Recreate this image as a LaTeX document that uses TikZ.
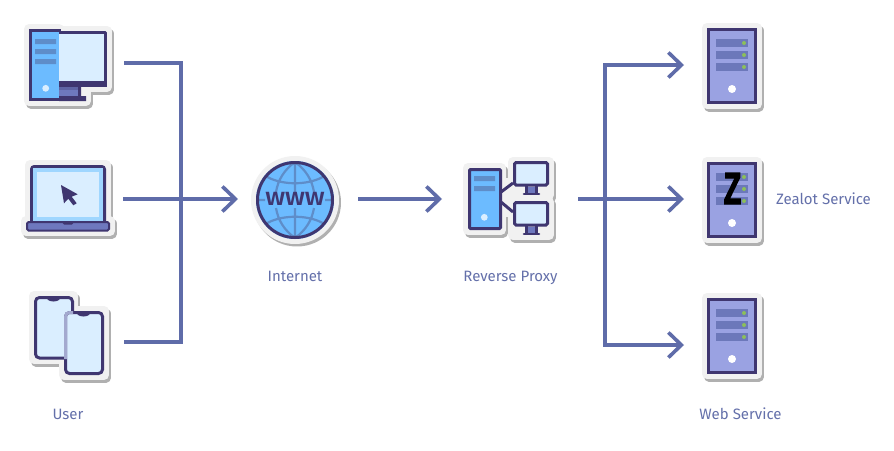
\documentclass[tikz,border=0pt]{standalone}
\usepackage{fontspec}
\setmainfont{Fira Sans}
\newfontfamily\zfont[FakeStretch=0.62,FakeBold=2.8]{Liberation Sans}
\newfontfamily\wwwfont[UprightFont=* Medium,FakeStretch=1.08]{Fira Sans}
\usetikzlibrary{arrows.meta}
\definecolor{lineblue}{HTML}{5F6CA9}
\definecolor{labelblue}{HTML}{6470AA}
\definecolor{navy}{HTML}{3F3670}
\definecolor{sky}{HTML}{6CBBFF}
\definecolor{pale}{HTML}{DAEEFF}
\definecolor{mid}{HTML}{9FD6FF}
\definecolor{steel}{HTML}{5E8DC9}
\definecolor{plum}{HTML}{6E78BE}
\definecolor{lav}{HTML}{9AA2E2}
\definecolor{lavd}{HTML}{6C78BA}
\definecolor{stick}{HTML}{F1F1F1}
\definecolor{shade}{HTML}{B0B0B0}
\definecolor{leaf}{HTML}{8CBF5A}
\definecolor{veil}{HTML}{A3A9CF}
\tikzset{
  x=1pt,y=-1pt,
  conn/.style={draw=lineblue,line width=3.6pt,line join=miter},
  arrowconn/.style={conn,-{Straight Barb[length=13pt,width=25pt,line width=3.6pt]}},
  iconbox/.style={inner sep=0pt,outer sep=0pt,minimum width=#1,minimum height=30pt},
  lbl/.style={text=labelblue,font=\fontsize{15}{17}\selectfont,inner sep=0pt,anchor=base},
}
% sticker: shadow then pale outline
\newcommand{\sticker}[1]{%
  \fill[shade,draw=shade,line width=10pt,line join=round,shift={(2pt,-2.5pt)}] #1;
  \fill[stick,draw=stick,line width=10pt,line join=round] #1;
}
\newcommand{\serverbody}[1]{%
  \begin{scope}[shift={(0,#1)}]
    \sticker{(707,0) rectangle (757,76)}
    \filldraw[fill=lav,draw=navy,line width=3pt] (708.5,1.5) rectangle (755.5,74.5);
    \foreach \yy in {11,23,35}{
      \fill[lavd] (716,\yy) rectangle (748,\yy+8);
      \fill[leaf] (744,\yy+4) circle (2pt);
    }
    \fill[white] (732,61) circle (4pt);
  \end{scope}
}
\newcommand{\minimon}[1]{%
  \begin{scope}[shift={(0,#1)}]
    \fill[plum] (528,26) rectangle (535,32);
    \draw[navy,line width=2.4pt] (526.5,25) -- (526.5,32) (536.5,25) -- (536.5,32);
    \draw[navy,line width=2.6pt,line cap=round] (524,33) -- (539,33);
    \filldraw[fill=pale,draw=navy,line width=3pt,rounded corners=1.5pt] (514.5,1.5) rectangle (547.5,24);
  \end{scope}
}
\begin{document}
\begin{tikzpicture}
\useasboundingbox (0,0) rectangle (894,450);
\fill[white] (0,0) rectangle (894,450);

% ---------- desktop
\sticker{(29,29) rectangle (59,101) (59,31) rectangle (107,87) (59,87) rectangle (86,101)}
\fill[plum] (59,87) rectangle (79,97);
\fill[lavd!70!navy] (59,87) rectangle (79,90);
\fill[pale] (59,33) rectangle (105,82);
\draw[navy,line width=3pt,line join=round] (59,32.5) -- (105.5,32.5) -- (105.5,85.5) -- (59,85.5);
\fill[navy] (59,81) rectangle (107,87);
\fill[navy] (78,87) rectangle (81,96) (59,96) rectangle (86,101);
\fill[sky] (31,31) rectangle (59,99);
\draw[navy,line width=3pt] (61,30.5) -- (30.5,30.5) -- (30.5,99.5) -- (60,99.5);
\fill[steel] (35,39) rectangle (56,44) (35,49) rectangle (56,54) (35,59) rectangle (56,64);
\fill[pale] (45.7,88.3) circle (3.4pt);

% ---------- laptop
\sticker{(30,165) rectangle (106,222) (26,221) rectangle (110,231)}
\fill[navy,rounded corners=4pt] (30,165) rectangle (106,226);
\fill[mid] (33,168) rectangle (103,222);
\fill[pale] (37,172) rectangle (99,217);
\filldraw[fill=plum,draw=navy,line width=2pt,rounded corners=1.5pt] (27,222) rectangle (109,230.5);
\fill[navy] (61,221) -- (75,221) -- (72,224.5) -- (64,224.5) -- cycle;
\fill[navy] (61,185) -- (77.7,194.3) -- (71.7,196.7) -- (76.7,203.3) -- (73.3,205.3) -- (68.3,198.7) -- (64,203.3) -- cycle;

% ---------- phones
\sticker{(34,296) rectangle (73,359) (64,311) rectangle (104,375)}
\filldraw[fill=pale,draw=navy,line width=3pt,rounded corners=4pt] (35.5,297.5) rectangle (72.5,358);
\fill[navy] (46,296.5) -- (61,296.5) -- (59,300) .. controls (56,302) and (51,302) .. (48,300) -- cycle;
\filldraw[fill=pale,draw=navy,line width=3pt,rounded corners=4pt] (65.5,312.5) rectangle (102.5,373.5);
\draw[line width=3pt,draw=veil,rounded corners=4pt] (65.5,359) -- (65.5,312.5) -- (73,312.5);
\fill[navy] (76,311.5) -- (91,311.5) -- (89,315) .. controls (86,317) and (81,317) .. (78,315) -- cycle;

% ---------- globe
\sticker{(295,200) circle (39pt)}
\filldraw[fill=sky,draw=none] (295,200) circle (39pt);
\begin{scope}
\clip (295,200) circle (38pt);
\draw[steel,line width=2.2pt]
  (295,162) -- (295,192) (295,208) -- (295,238)
  (256,200) -- (265,200) (325,200) -- (334,200)
  (264,175) .. controls (280,186) and (310,186) .. (326,175)
  (264,225) .. controls (280,214) and (310,214) .. (326,225)
  (295,162) .. controls (284,170) and (278,180) .. (276,192)
  (295,162) .. controls (306,170) and (312,180) .. (314,192)
  (295,238) .. controls (284,230) and (278,220) .. (276,208)
  (295,238) .. controls (306,230) and (312,220) .. (314,208);
\end{scope}
\draw[navy,line width=3pt] (295,200) circle (37.5pt);
\node[inner sep=0pt,text=navy,font=\fontsize{25}{25}\wwwfont] (wwwtext) at (295,198.5) {www};

% ---------- reverse proxy
\sticker{(468,168) rectangle (501,230) (501,183) rectangle (513,212) (513,162) rectangle (549,195) (513,202) rectangle (549,235)}
\draw[navy,line width=3pt] (501,192) -- (513,183) (501,202) -- (513,212);
\filldraw[fill=sky,draw=navy,line width=3pt,rounded corners=1pt] (469.5,169.5) rectangle (500.5,228.5);
\fill[steel] (474,176) rectangle (495,181) (474,186) rectangle (495,191);
\fill[pale] (484.3,217.3) circle (3.4pt);
\minimon{161}
\minimon{201}

% ---------- servers
\serverbody{28}
\serverbody{162}
\serverbody{298}
\node[inner sep=0pt,text=black,font=\fontsize{45}{45}\zfont\bfseries] (zmark) at (732.5,188.5) {Z};

% ---------- named boxes and connectors
\node[iconbox=112pt] (desktop) at (68,63) {};
\node[iconbox=112pt] (laptop) at (67,199) {};
\node[iconbox=112pt] (phones) at (68,342) {};
\node[iconbox=120pt] (globe) at (298,199) {};
\node[iconbox=136pt] (proxy) at (510,199) {};
\node[iconbox=96pt] (srvA) at (732,65) {};
\node[iconbox=96pt] (srvB) at (732,199) {};
\node[iconbox=96pt] (srvC) at (732,345) {};
\coordinate (trunkL) at (181,199);
\coordinate (trunkR) at (605,199);

\draw[conn] (desktop.east) -| (trunkL) |- (phones.east);
\draw[arrowconn] (laptop.east) -- (globe.west);
\draw[arrowconn] (globe.east) -- (proxy.west);
\draw[arrowconn] (proxy.east) -- (srvB.west);
\draw[arrowconn] (trunkR) |- (srvA.west);
\draw[arrowconn] (trunkR) |- (srvC.west);

% ---------- labels
\node[lbl] (lblUser) at (68,419) {User};
\node[lbl] (lblNet) at (295,281) {Internet};
\node[lbl] (lblProxy) at (510.5,281) {Reverse Proxy};
\node[lbl] (lblZealot) at (823.5,204) {Zealot Service};
\node[lbl] (lblWeb) at (740.5,419) {Web Service};
\end{tikzpicture}
\end{document}
